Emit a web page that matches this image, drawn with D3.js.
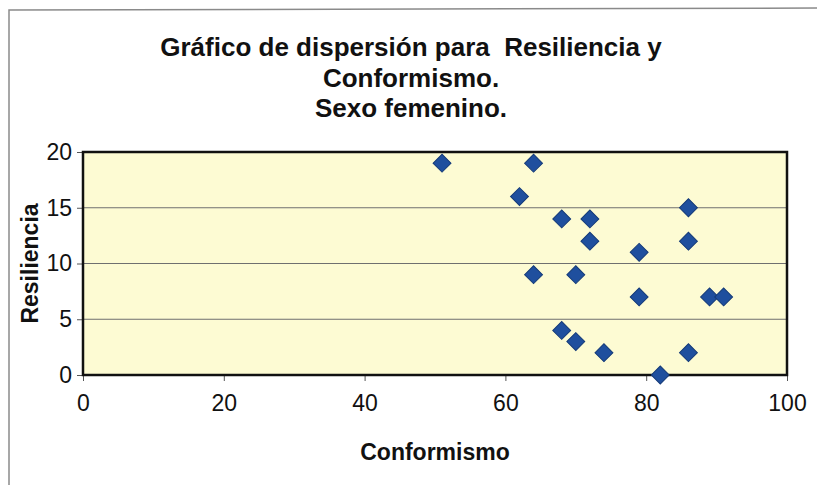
<!DOCTYPE html>
<html>
<head>
<meta charset="utf-8">
<script src="https://cdn.jsdelivr.net/npm/d3@7"></script>
<style>
  body { margin: 0; background: #fff; }
  svg { display: block; }
  text { font-family: "Liberation Sans", Arial, sans-serif; fill: #111; white-space: pre; }
</style>
</head>
<body>
<div id="chart"></div>
<script>
// Conformismo (x) vs Resiliencia (y), sexo femenino
var conformismo = [51, 64, 62, 68, 72, 72, 79, 86, 86, 64, 70, 79, 89, 91, 68, 70, 74, 86, 82];
var resiliencia = [19, 19, 16, 14, 14, 12, 11, 15, 12, 9, 9, 7, 7, 7, 4, 3, 2, 2, 0];
var xTicks = [0, 20, 40, 60, 80, 100];
var yTicks = [0, 5, 10, 15, 20];
var titleLines = ["Gráfico de dispersión para  Resiliencia y", "Conformismo.", "Sexo femenino."];

var width = 817, height = 485;
var plot = {left: 83, right: 787, top: 152, bottom: 375};

var svg = d3.select("#chart").append("svg")
    .attr("width", width)
    .attr("height", height);

// outer chart frame (only top and left edges visible in the scan)
svg.append("path")
    .attr("d", "M9,485 L9,10 L817,8")
    .attr("fill", "none")
    .attr("stroke", "#8a8a8a")
    .attr("stroke-width", 1.5);

var x = d3.scaleLinear().domain([0, 100]).range([plot.left, plot.right]);
var y = d3.scaleLinear().domain([0, 20]).range([plot.bottom, plot.top]);

// plot background
svg.append("rect")
    .attr("x", x(0)).attr("y", y(20))
    .attr("width", x(100) - x(0))
    .attr("height", y(0) - y(20))
    .attr("fill", "#fdfbd3");

// horizontal gridlines
svg.append("g").selectAll("line")
    .data(yTicks.filter(function (d) { return d > 0 && d < 20; }))
    .enter().append("line")
    .attr("x1", x(0)).attr("x2", x(100))
    .attr("y1", function (d) { return y(d); })
    .attr("y2", function (d) { return y(d); })
    .attr("stroke", "#6f6f6f")
    .attr("stroke-width", 1);

// axes
var xAxis = svg.append("g")
    .attr("transform", "translate(0," + plot.bottom + ")")
    .call(d3.axisBottom(x).tickValues(xTicks).tickSize(6).tickPadding(14));
var yAxis = svg.append("g")
    .attr("transform", "translate(" + plot.left + ",0)")
    .call(d3.axisLeft(y).tickValues(yTicks).tickSize(6).tickPadding(5));

[xAxis, yAxis].forEach(function (g) {
    g.select(".domain").remove();
    g.selectAll(".tick line").attr("stroke", "#555");
    g.selectAll(".tick text")
        .attr("font-size", 23)
        .attr("font-family", "Liberation Sans, Arial, sans-serif")
        .attr("fill", "#111");
});

// plot border
svg.append("rect")
    .attr("x", x(0)).attr("y", y(20))
    .attr("width", x(100) - x(0))
    .attr("height", y(0) - y(20))
    .attr("fill", "none")
    .attr("stroke", "#111")
    .attr("stroke-width", 2.5);

// points
var pts = conformismo.map(function (c, i) { return {x: c, y: resiliencia[i]}; });
svg.append("g").selectAll("path")
    .data(pts)
    .enter().append("path")
    .attr("d", d3.symbol().type(d3.symbolSquare).size(160))
    .attr("transform", function (d) {
        return "translate(" + x(d.x) + "," + y(d.y) + ") rotate(45)";
    })
    .attr("fill", "#1f4f9e")
    .attr("stroke", "#143a78")
    .attr("stroke-width", 1);

// title
svg.append("g").selectAll("text")
    .data(titleLines)
    .enter().append("text")
    .attr("x", 411)
    .attr("y", function (d, i) { return 56 + i * 30.5; })
    .attr("text-anchor", "middle")
    .attr("font-size", 26)
    .attr("font-weight", "bold")
    .text(function (d) { return d; });

// axis titles
svg.append("text")
    .attr("x", (plot.left + plot.right) / 2)
    .attr("y", 460)
    .attr("text-anchor", "middle")
    .attr("font-size", 23)
    .attr("font-weight", "bold")
    .text("Conformismo");

svg.append("text")
    .attr("transform", "translate(38," + (plot.top + plot.bottom) / 2 + ") rotate(-90)")
    .attr("text-anchor", "middle")
    .attr("font-size", 23)
    .attr("font-weight", "bold")
    .text("Resiliencia");
</script>
</body>
</html>
